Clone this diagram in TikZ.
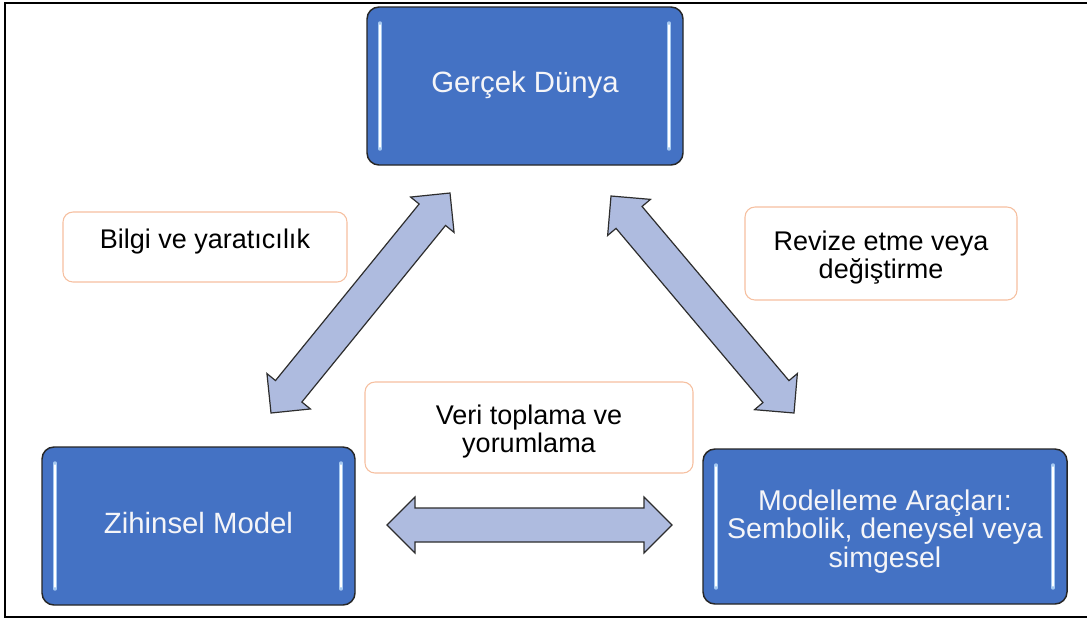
\documentclass[tikz,border=0pt]{standalone}
\usepackage{fontspec}
\setmainfont{Liberation Sans}
\usetikzlibrary{calc}

\definecolor{boxblue}{RGB}{68,114,196}
\definecolor{boxedge}{RGB}{38,38,38}
\definecolor{barblue}{RGB}{165,200,240}
\definecolor{arrowfill}{RGB}{174,187,223}
\definecolor{arrowedge}{RGB}{45,45,45}
\definecolor{tagedge}{RGB}{246,192,160}
\definecolor{boxtext}{RGB}{245,245,248}

\tikzset{
  bluebox/.style={draw=boxedge, line width=1.1pt, fill=boxblue, rounded corners=9pt,
    inner sep=0pt, outer sep=0pt, text=boxtext, align=center},
  tagbox/.style={draw=tagedge, line width=0.8pt, fill=white, rounded corners=7.5pt,
    inner sep=0pt, outer sep=0pt, align=center,
    font=\fontsize{20.25}{20.5}\selectfont},
  tagtext/.style={align=center, font=\fontsize{20.25}{20.5}\selectfont},
  tooltext/.style={align=center, text=boxtext, font=\fontsize{21.4}{21.4}\selectfont},
  shine/.style={line width=2.6pt, draw=barblue, line cap=round},
  shinecore/.style={line width=0.9pt, draw=white, line cap=round},
  arrowbody/.style={fill=arrowfill, draw=arrowedge, line width=0.9pt, line join=miter},
  frameline/.style={line width=1.5pt, draw=black},
}

% Block arrow with a head at both ends, between two tip points
\newcommand{\DrawTwoWay}[2]{%
  \draw[arrowbody] (#1)
    -- ($(#1)!21pt!(#2)!21pt!90:(#2)$)
    -- ($(#1)!21pt!(#2)!12.75pt!90:(#2)$)
    -- ($(#2)!21pt!(#1)!12.75pt!-90:(#1)$)
    -- ($(#2)!21pt!(#1)!21pt!-90:(#1)$)
    -- (#2)
    -- ($(#2)!21pt!(#1)!21pt!90:(#1)$)
    -- ($(#2)!21pt!(#1)!12.75pt!90:(#1)$)
    -- ($(#1)!21pt!(#2)!12.75pt!-90:(#2)$)
    -- ($(#1)!21pt!(#2)!21pt!-90:(#2)$)
    -- cycle;}

% Light vertical bars along the left and right sides of a box
\newcommand{\ShineBars}[1]{%
  \draw[shine] ($(#1.north west)+(13,16)$) -- ($(#1.south west)+(13,-16)$);
  \draw[shine] ($(#1.north east)+(-14,16)$) -- ($(#1.south east)+(-14,-16)$);
  \draw[shinecore] ($(#1.north west)+(13,18)$) -- ($(#1.south west)+(13,-18)$);
  \draw[shinecore] ($(#1.north east)+(-14,18)$) -- ($(#1.south east)+(-14,-18)$);}

\begin{document}
\begin{tikzpicture}[x=0.75pt, y=-0.75pt]
  \useasboundingbox (0,0) rectangle (1087,619);
  \fill[white] (0,0) rectangle (1087,619);

  % outer frame
  \draw[frameline] (1087,3) -- (5,3) -- (5,617) -- (1087,617);

  % main boxes
  \node[bluebox, minimum width=237pt, minimum height=118.5pt,
        font=\fontsize{22}{22}\selectfont, text height=1.22em, text depth=0.2em]
        (world) at (525,86) {Gerçek Dünya};
  \node[bluebox, minimum width=234.75pt, minimum height=118.5pt,
        font=\fontsize{22}{22}\selectfont, text height=1.36em, text depth=0.2em]
        (mental) at (198.5,526) {Zihinsel Model};
  \node[bluebox, minimum width=273pt, minimum height=116.25pt,
        label={[tooltext, yshift=-3.5pt]center:{Modelleme Araçları:\\Sembolik, deneysel veya\\simgesel}}]
        (tools) at (885,526.5) {};
  \ShineBars{world}
  \ShineBars{mental}
  \ShineBars{tools}

  % caption boxes
  \node[tagbox, minimum width=213pt, minimum height=52.5pt,
        text height=0.86em, text depth=0.6em]
        (knowledge) at (205,247) {Bilgi ve yaratıcılık};
  \node[tagbox, minimum width=204pt, minimum height=69.75pt,
        label={[tagtext, yshift=-3pt]center:{Revize etme veya\\değiştirme}}]
        (revise) at (881,253.5) {};
  \node[tagbox, minimum width=246pt, minimum height=68.25pt,
        label={[tagtext, yshift=-3pt]center:{Veri toplama ve\\yorumlama}}]
        (data) at (529,427.5) {};

  % arrow tips
  \coordinate (lt) at (450,193);
  \coordinate (lb) at (271,413);
  \coordinate (rt) at (611,196);
  \coordinate (rb) at (794,413);
  \coordinate (bl) at (387,525);
  \coordinate (br) at (672,525);

  \DrawTwoWay{lt}{lb}
  \DrawTwoWay{rt}{rb}
  \DrawTwoWay{bl}{br}
\end{tikzpicture}
\end{document}
